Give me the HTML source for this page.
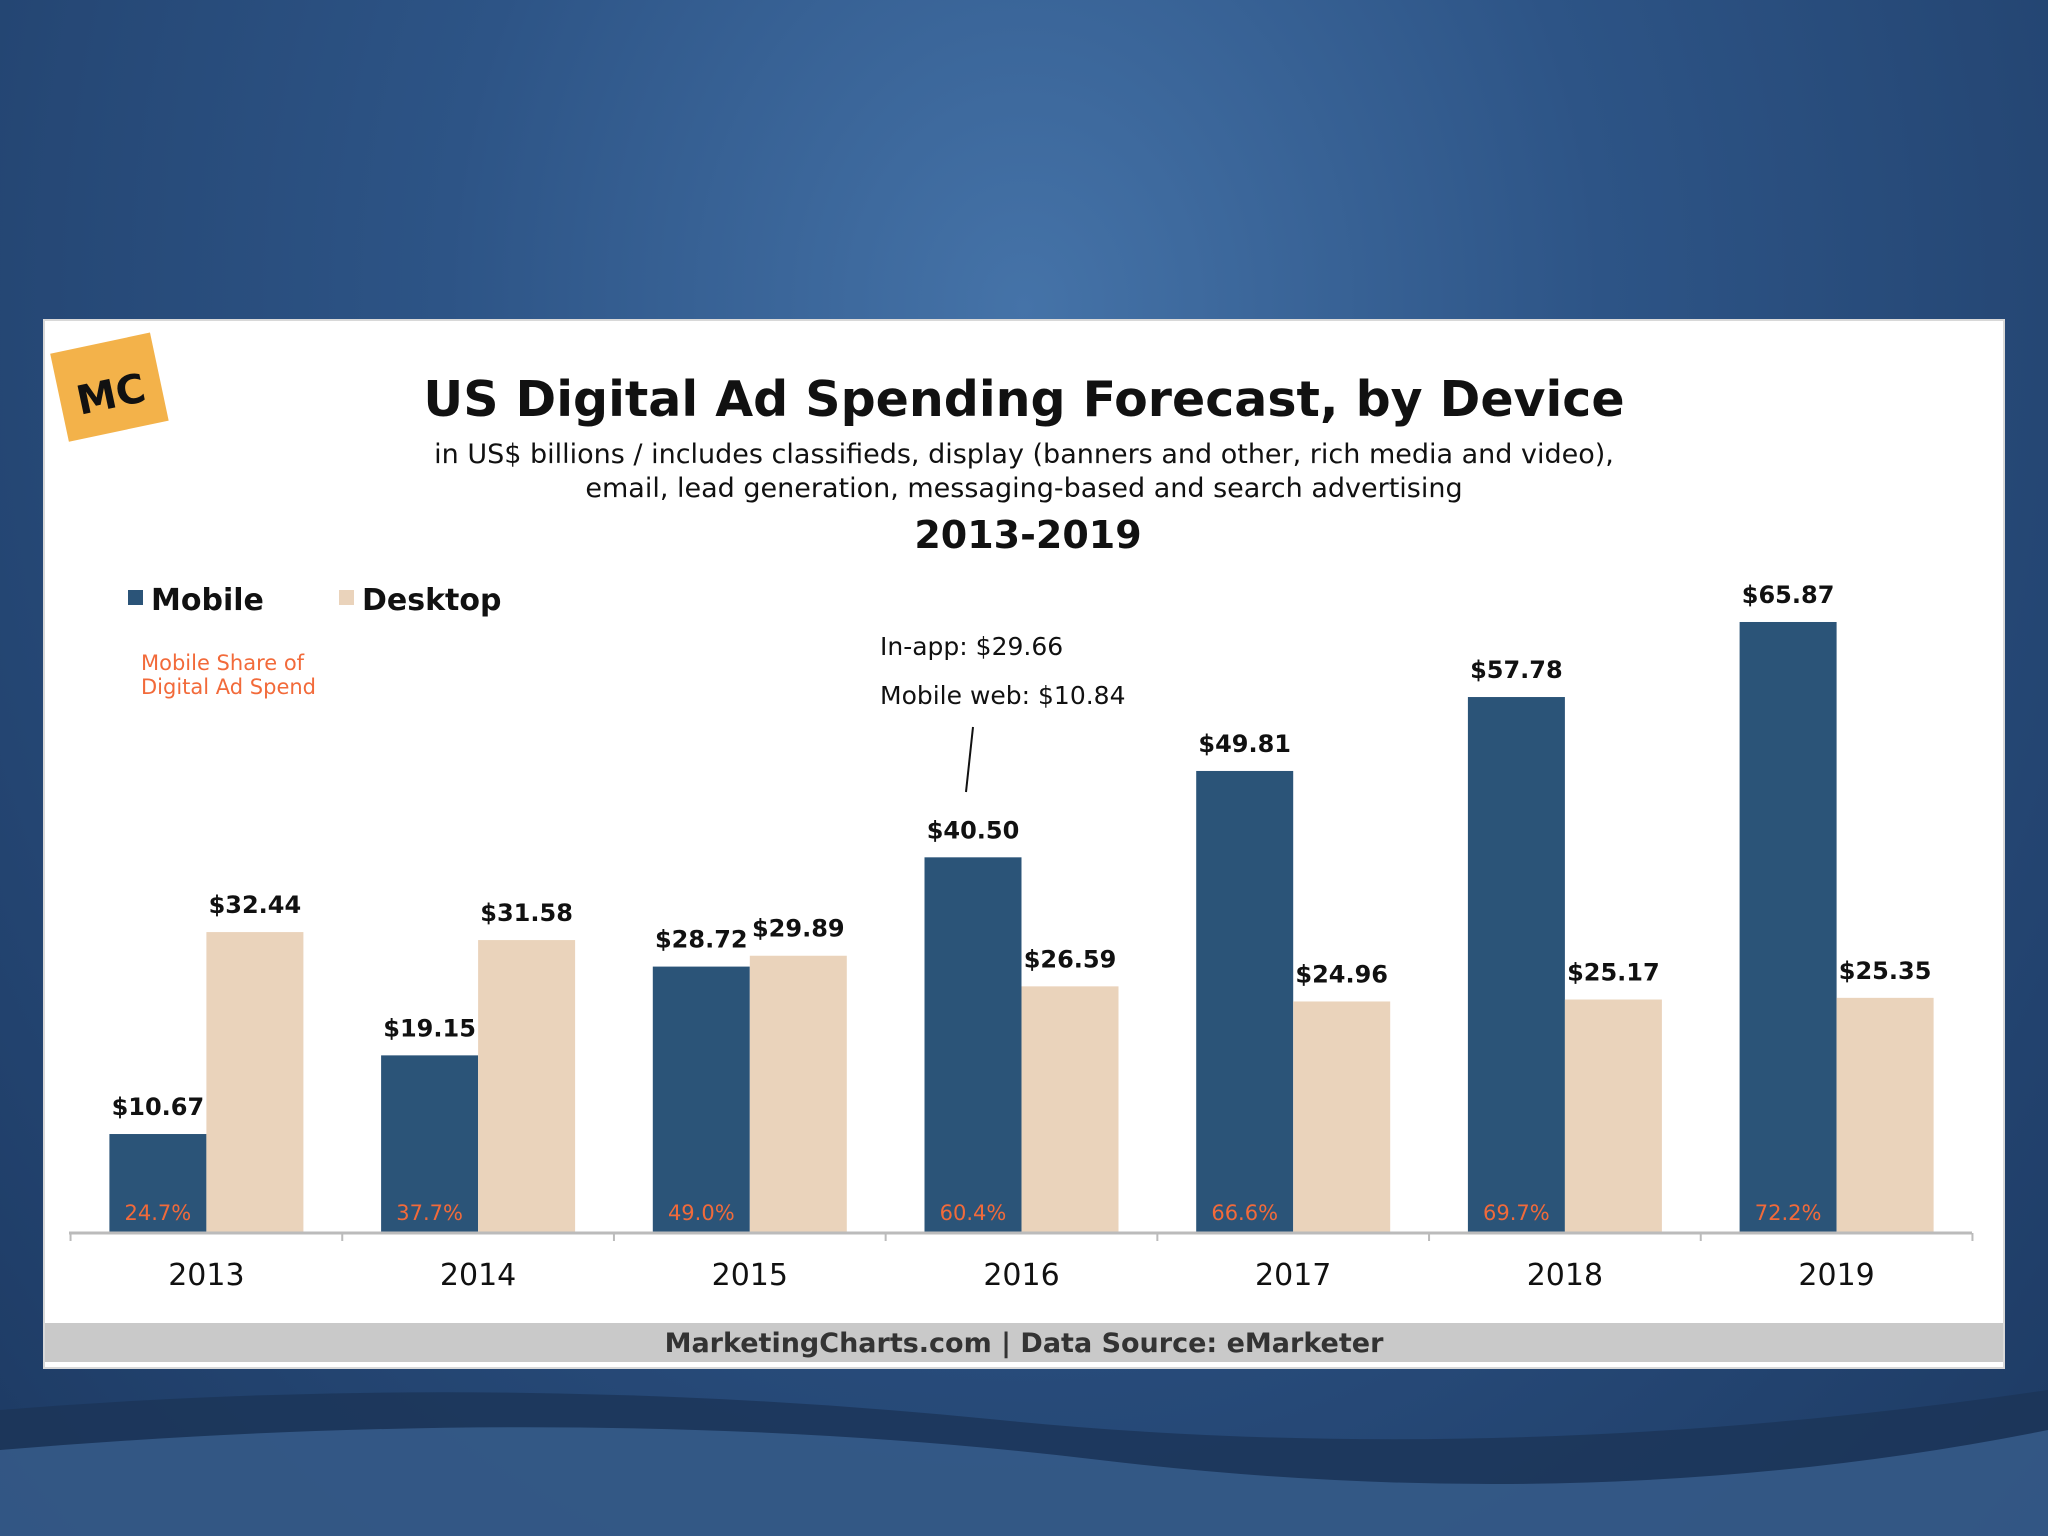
<!DOCTYPE html>
<html><head><meta charset="utf-8"><style>
html,body{margin:0;padding:0;width:2048px;height:1536px;overflow:hidden;font-family:"DejaVu Sans","Liberation Sans",sans-serif}
#bg{position:absolute;left:0;top:0;width:2048px;height:1536px;background:radial-gradient(ellipse at 50% 20%,#4573a8 0%,#2d5486 40%,#1d3a63 100%)}
#wave{position:absolute;left:0;top:1370px;width:2048px;height:166px}
#panel{position:absolute;left:43px;top:319px;width:1962px;height:1050px;background:#fff;border:2px solid #d8d8d8;box-sizing:border-box}
svg text{font-family:"DejaVu Sans","Liberation Sans",sans-serif}
</style></head><body>
<div id="bg"></div>
<svg id="wave" width="2048" height="166">
<path d="M0 40 Q500 0 1000 50 T2048 20 L2048 166 L0 166Z" fill="#1b3558" opacity="0.8"/>
<path d="M0 80 Q600 30 1100 90 T2048 60 L2048 166 L0 166Z" fill="#4a78ad" opacity="0.5"/>
</svg>
<div id="panel"></div>
<svg id="chart" width="2048" height="1536" style="position:absolute;left:0;top:0">
<g transform="rotate(-12 110 385)">
<rect x="58" y="342" width="102" height="90" fill="#f3b24a"/>
<text x="109" y="408" text-anchor="middle" font-size="40" font-weight="bold" fill="#111">MC</text>
</g>
<text x="1024" y="416" text-anchor="middle" font-size="49" font-weight="bold" fill="#111">US Digital Ad Spending Forecast, by Device</text>
<text x="1024" y="463" text-anchor="middle" font-size="27" fill="#111">in US$ billions / includes classifieds, display (banners and other, rich media and video),</text>
<text x="1024" y="497" text-anchor="middle" font-size="27" fill="#111">email, lead generation, messaging-based and search advertising</text>
<text x="1028" y="548" text-anchor="middle" font-size="38" font-weight="bold" fill="#111">2013-2019</text>
<rect x="128" y="590" width="15" height="15" fill="#2b5478"/>
<text x="151" y="610" font-size="30" font-weight="bold" fill="#111">Mobile</text>
<rect x="339" y="590" width="15" height="15" fill="#ead3bb"/>
<text x="362" y="610" font-size="30" font-weight="bold" fill="#111">Desktop</text>
<text x="141" y="670" font-size="21" fill="#f26a3a">Mobile Share of</text>
<text x="141" y="694" font-size="21" fill="#f26a3a">Digital Ad Spend</text>
<text x="880" y="655" font-size="25" fill="#111">In-app: $29.66</text>
<text x="880" y="704" font-size="25" fill="#111">Mobile web: $10.84</text>
<line x1="973" y1="727" x2="966" y2="792" stroke="#111" stroke-width="2"/>
<g id="bars"></g>
<rect x="45" y="1323" width="1958" height="39" fill="#c9c9c9"/>
<text x="1024" y="1352" text-anchor="middle" font-size="27" font-weight="bold" fill="#333">MarketingCharts.com | Data Source: eMarketer</text>
</svg>
<script>
const years=["2013","2014","2015","2016","2017","2018","2019"];
const mobile=[10.67,19.15,28.72,40.50,49.81,57.78,65.87];
const desktop=[32.44,31.58,29.89,26.59,24.96,25.17,25.35];
const shares=["24.7%","37.7%","49.0%","60.4%","66.6%","69.7%","72.2%"];
const NS="http://www.w3.org/2000/svg";
const g=document.getElementById('bars');
const base=1233,scale=9.276,x0=206.4,step=271.7,bw=97;
const xc=i=>x0+i*step;
const y=v=>base-v*scale;
function mk(t,a,txt){const e=document.createElementNS(NS,t);for(const k in a)e.setAttribute(k,a[k]);if(txt!=null)e.textContent=txt;g.appendChild(e);return e;}
years.forEach((yr,i)=>{
  const c=xc(i);
  let r=mk('rect',{x:c-bw,y:y(mobile[i]),width:bw,height:mobile[i]*scale,fill:'#2b5478'});
  
  
  r=mk('rect',{x:c,y:y(desktop[i]),width:bw,height:desktop[i]*scale,fill:'#ead3bb'});
  
  
  let t=mk('text',{x:c-bw/2,y:y(mobile[i])-19,'text-anchor':'middle','font-size':24,'font-weight':'bold',fill:'#111'},'$'+mobile[i].toFixed(2));
  
  
  t=mk('text',{x:c+bw/2,y:y(desktop[i])-19,'text-anchor':'middle','font-size':24,'font-weight':'bold',fill:'#111'},'$'+desktop[i].toFixed(2));
  
  
  t=mk('text',{x:c-bw/2,y:1220,'text-anchor':'middle','font-size':21,fill:'#f26a3a'},shares[i]);
  
  
  t=mk('text',{x:c,y:1285,'text-anchor':'middle','font-size':30,fill:'#111'},yr);
  
  
});
let ax=mk('line',{x1:69,y1:base,x2:1972,y2:base,stroke:'#bbb','stroke-width':3});


for(let i=0;i<=years.length;i++){
  const tx=x0-step/2+i*step;
  const tk=mk('line',{x1:tx,y1:base,x2:tx,y2:base+8,stroke:'#bbb','stroke-width':2});
  
  
}
</script>
</body></html>
